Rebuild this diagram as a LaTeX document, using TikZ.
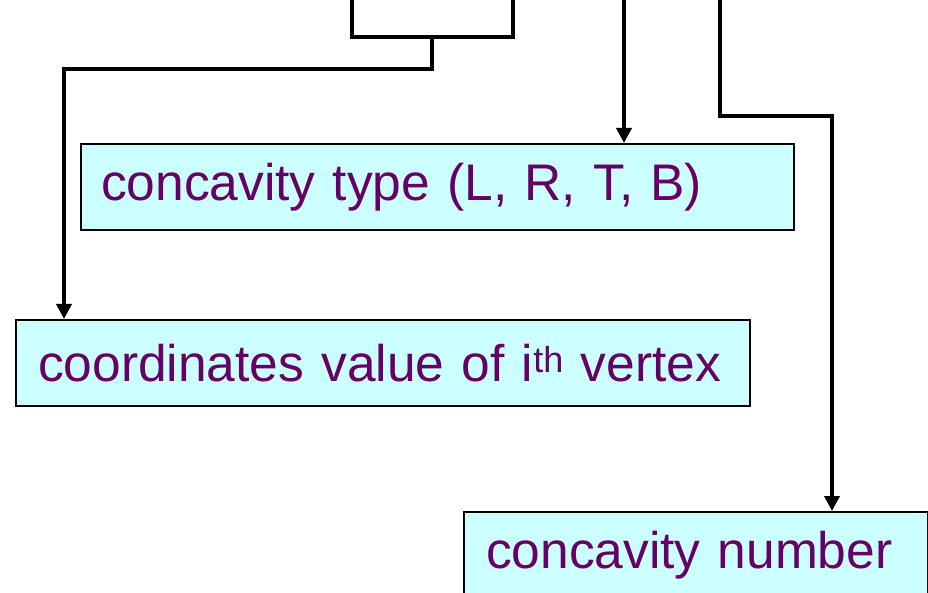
\documentclass[tikz,border=0pt]{standalone}
\usepackage{fontspec}
\setmainfont{Liberation Sans}
\usetikzlibrary{arrows.meta}
\definecolor{boxfill}{HTML}{CCFFFF}
\definecolor{txtpurple}{HTML}{660066}
\tikzset{
  labelbox/.style={draw=black, line width=2pt, fill=boxfill, anchor=north west,
    minimum height=86pt, align=left, inner ysep=0pt, text=txtpurple,
    font=\fontsize{51.5}{60}\selectfont},
  conn/.style={draw=black, line width=3.5pt},
  arr/.style={conn, -{Triangle[width=15pt,length=15pt]}}
}
\begin{document}
\begin{tikzpicture}[x=1pt,y=-1pt]
\useasboundingbox (0,0) rectangle (928,593);
\clip (0,0) rectangle (928,593);
% boxes
\node[labelbox, inner xsep=20pt, text width=673pt] (A) at (80,143) {\mbox{concavity type (L, R, T, B)}};
\node[labelbox, inner xsep=22pt, text width=690pt] (B) at (15,319) {\mbox{coordinates value of i\textsuperscript{th} vertex}};
\node[labelbox, inner xsep=22pt, text width=420pt] (C) at (463,511) {\mbox{concavity number}};
% connector anchor points
\coordinate (t1) at (352,-5);
\coordinate (t2) at (513,-5);
\coordinate (j) at (432,37);
\coordinate (k) at (64,69);
\coordinate (t3) at (624,-5);
\coordinate (t4) at (720,-5);
\coordinate (m) at (832,116);
% bracket and arrows
\draw[conn] (t1) |- (j) -| (t2);
\draw[arr] (j) |- (k) -- (k |- B.north);
\draw[arr] (t3) -- (t3 |- A.north);
\draw[arr] (t4) |- (m) -- (m |- C.north);
\end{tikzpicture}
\end{document}
